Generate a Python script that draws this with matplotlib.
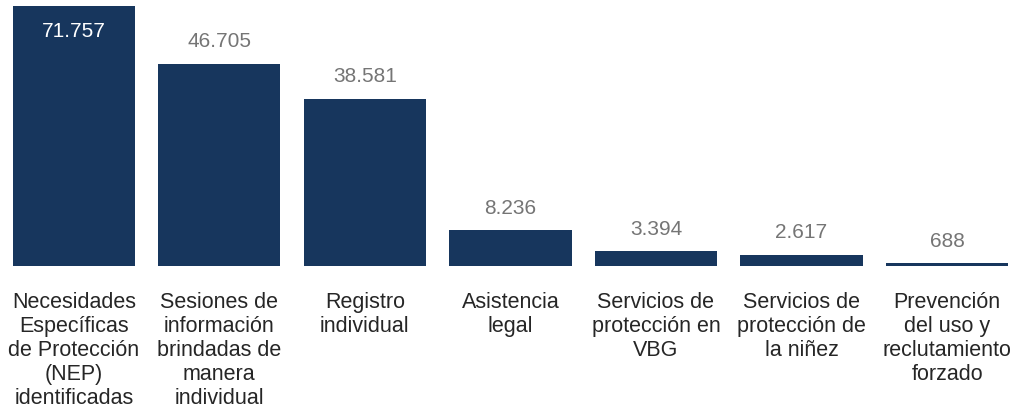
import matplotlib
matplotlib.use("Agg")
import matplotlib.pyplot as plt

categories = [
    "Necesidades\nEspecíficas\nde Protección\n(NEP)\nidentificadas",
    "Sesiones de\ninformación\nbrindadas de\nmanera\nindividual",
    "Registro\nindividual",
    "Asistencia\nlegal",
    "Servicios de\nprotección en\nVBG",
    "Servicios de\nprotección de\nla niñez",
    "Prevención\ndel uso y\nreclutamiento\nforzado",
]
values = [71757, 46705, 38581, 8236, 3394, 2617, 688]
value_labels = ["71.757", "46.705", "38.581", "8.236", "3.394", "2.617", "688"]

BAR_COLOR = "#17365D"
Y_MAX = 60000

plt.rcParams["font.family"] = ["Liberation Sans", "DejaVu Sans"]

fig = plt.figure(figsize=(10.26, 4.09), dpi=100)
ax = fig.add_axes([0.001, 0.3496, 0.993, 0.6357])

xs = range(len(values))
ax.bar(xs, values, width=0.84, color=BAR_COLOR)
ax.set_xlim(-0.5, len(values) - 0.5)
ax.set_ylim(0, Y_MAX)

for x, v, lab in zip(xs, values, value_labels):
    if v > Y_MAX:
        # bar runs past the top: label goes inside in white
        ax.annotate(lab, (x, Y_MAX), xytext=(0, -25), textcoords="offset pixels",
                    ha="center", va="center", color="white", fontsize=15)
    else:
        ax.annotate(lab, (x, v), xytext=(0, 22), textcoords="offset pixels",
                    ha="center", va="center", color="#757575", fontsize=15)

ax.set_xticks(list(xs))
ax.set_xticklabels(categories, fontsize=15.5, color="#262626", linespacing=1.18)
ax.tick_params(axis="x", length=0, pad=19)
ax.set_yticks([])
for s in ax.spines.values():
    s.set_visible(False)

fig.savefig("out.png", dpi=100)
